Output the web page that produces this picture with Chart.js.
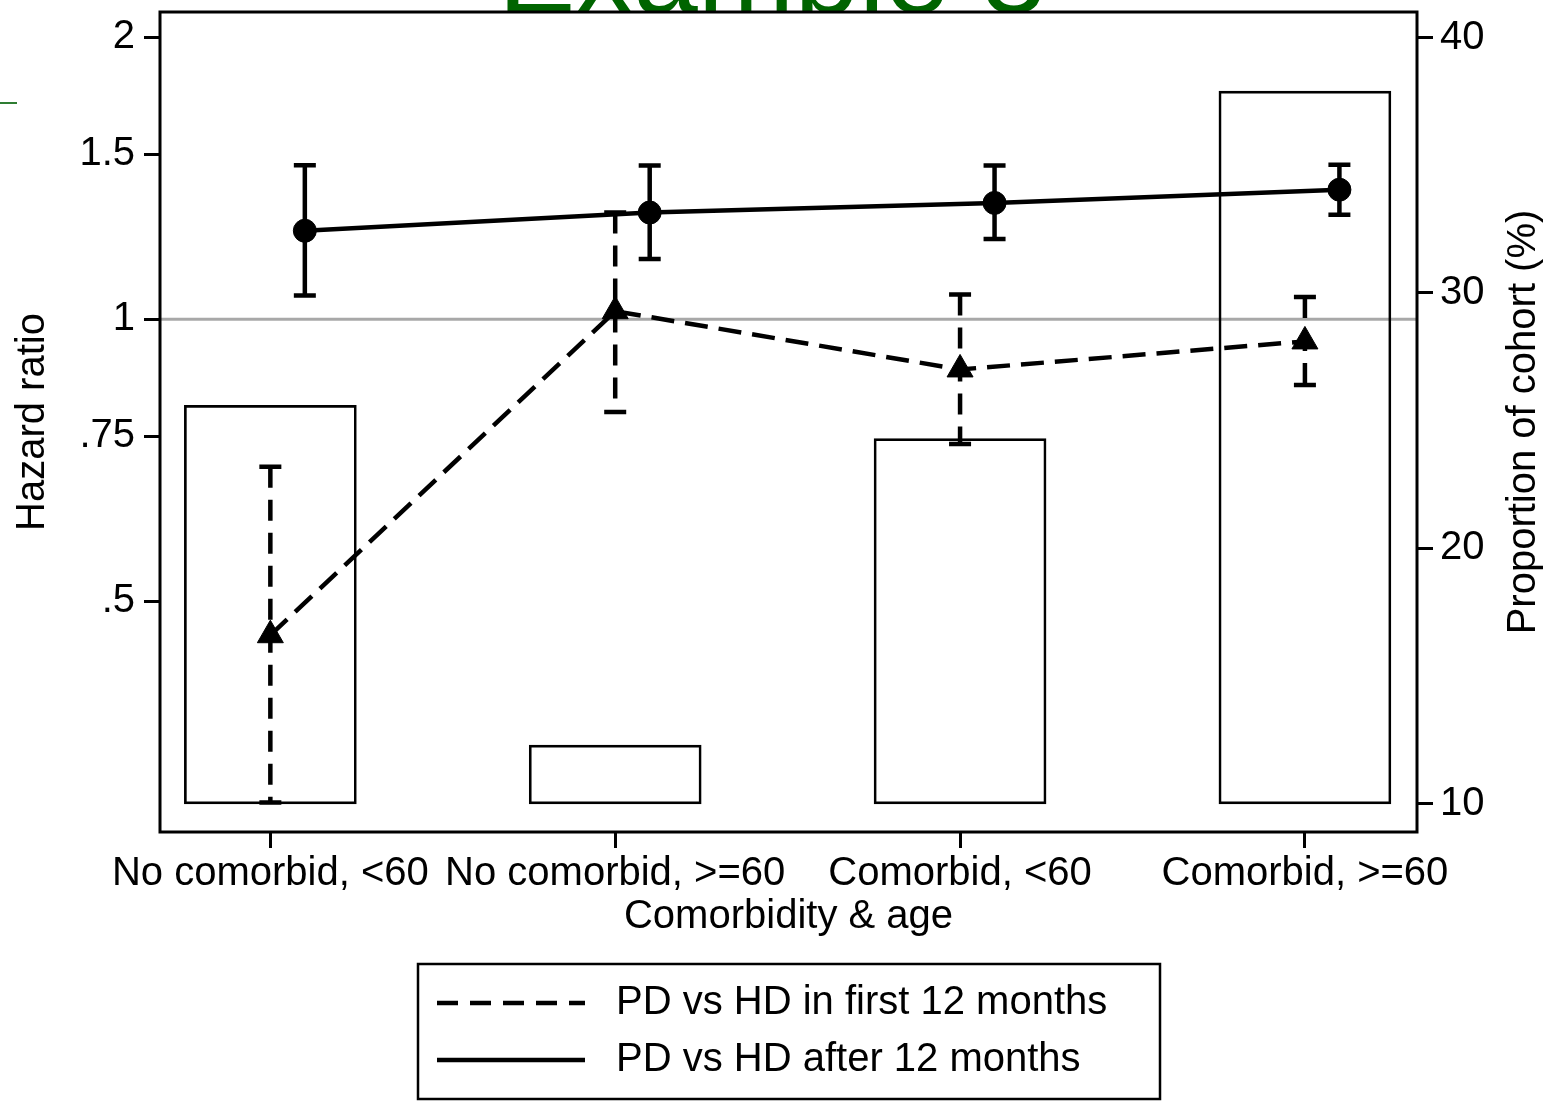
<!DOCTYPE html>
<html>
<head>
<meta charset="utf-8">
<script src="https://cdn.jsdelivr.net/npm/chart.js@4.4.0/dist/chart.umd.min.js"></script>
<style>
  html, body { margin: 0; padding: 0; background: #fff; }
  canvas { display: block; }
</style>
</head>
<body>
<canvas id="myChart" width="1556" height="1102"></canvas>
<script>
const categories = ["No comorbid, <60", "No comorbid, >=60", "Comorbid, <60", "Comorbid, >=60"];

// proportion of cohort (%) - right axis, bars
const cohortPct = [25.6, 12.3, 24.3, 37.9];

// PD vs HD in first 12 months (triangles, dashed)
const firstHR = [0.46, 1.02, 0.884, 0.947];
const firstLow = [0.305, 0.796, 0.736, 0.851];
const firstHigh = [0.696, 1.30, 1.063, 1.056];

// PD vs HD after 12 months (circles, solid)
const afterHR = [1.243, 1.30, 1.331, 1.375];
const afterLow = [1.06, 1.16, 1.218, 1.293];
const afterHigh = [1.46, 1.459, 1.459, 1.462];

const hrTicks = [0.5, 0.75, 1, 1.5, 2];
const hrTickLabels = [".5", ".75", "1", "1.5", "2"];
const pctTicks = [10, 20, 30, 40];
const refLine = 1;
const barBase = 10;

const FONT = "'Liberation Sans', Arial, Helvetica, sans-serif";
Chart.defaults.font.family = FONT;
Chart.defaults.color = "#000";

const xs = categories.map((c, i) => i + 1);
const shift = 0.1; // circles sit a little right of the category
const DASH = [23, 11];

function errBar(c, x, lo, hi, dash) {
  c.strokeStyle = "#000";
  c.lineWidth = 4.5;
  c.setLineDash(dash);
  c.beginPath();
  c.moveTo(x, hi);
  c.lineTo(x, lo);
  c.stroke();
  c.setLineDash([]);
  c.beginPath();
  c.moveTo(x - 11, hi); c.lineTo(x + 11, hi);
  c.moveTo(x - 11, lo); c.lineTo(x + 11, lo);
  c.stroke();
}

const decor = {
  id: "decor",
  beforeDraw(chart) {
    const c = chart.ctx, a = chart.chartArea;
    c.save();
    c.fillStyle = "#fff";
    c.fillRect(0, 0, chart.width, chart.height);
    c.fillStyle = "#006400";
    c.font = "116px " + FONT;
    c.textAlign = "center";
    c.textBaseline = "alphabetic";
    c.fillText("Example 3", 772, 13);
    c.strokeStyle = "#2e7d32";
    c.lineWidth = 2;
    c.beginPath(); c.moveTo(0, 103); c.lineTo(17, 103); c.stroke();
    c.fillStyle = "#fff";
    c.fillRect(a.left, a.top, a.right - a.left, a.bottom - a.top);
    c.restore();
  },
  beforeDatasetsDraw(chart) {
    const c = chart.ctx, a = chart.chartArea;
    const y = chart.scales.y.getPixelForValue(refLine);
    c.save();
    c.strokeStyle = "#a8a8a8";
    c.lineWidth = 3;
    c.beginPath(); c.moveTo(a.left, y); c.lineTo(a.right, y); c.stroke();
    c.restore();
  },
  afterDatasetsDraw(chart) {
    const c = chart.ctx, a = chart.chartArea;
    const sx = chart.scales.x, sy = chart.scales.y;
    c.save();
    xs.forEach((v, i) => {
      errBar(c, sx.getPixelForValue(v), sy.getPixelForValue(firstLow[i]), sy.getPixelForValue(firstHigh[i]), [21, 12]);
      errBar(c, sx.getPixelForValue(v + shift), sy.getPixelForValue(afterLow[i]), sy.getPixelForValue(afterHigh[i]), []);
    });
    c.strokeStyle = "#000";
    c.lineWidth = 3;
    c.strokeRect(a.left, a.top, a.right - a.left, a.bottom - a.top);
    c.restore();
  },
  afterDraw(chart) {
    const c = chart.ctx, a = chart.chartArea;
    c.save();
    c.fillStyle = "#000";
    c.font = "40px " + FONT;
    c.translate(1535, (a.top + a.bottom) / 2);
    c.rotate(-Math.PI / 2);
    c.textAlign = "center";
    c.textBaseline = "alphabetic";
    c.fillText("Proportion of cohort (%)", 0, 0);
    c.restore();

    // legend
    c.save();
    c.strokeStyle = "#000";
    c.lineWidth = 2.5;
    c.strokeRect(418, 964, 742, 135);
    c.lineWidth = 4.5;
    c.setLineDash([21, 12]);
    c.beginPath(); c.moveTo(437, 1003); c.lineTo(585, 1003); c.stroke();
    c.setLineDash([]);
    c.beginPath(); c.moveTo(437, 1060); c.lineTo(585, 1060); c.stroke();
    c.fillStyle = "#000";
    c.font = "40px " + FONT;
    c.textAlign = "left";
    c.textBaseline = "middle";
    c.fillText(chart.data.datasets[0].label, 616, 1003);
    c.fillText(chart.data.datasets[1].label, 616, 1060);
    c.restore();
  }
};

const axisGrid = {
  display: true,
  drawOnChartArea: false,
  drawTicks: true,
  tickLength: 16,
  color: "#000",
  lineWidth: 3,
  offset: false,
};

function fixY(width) {
  return (s) => {
    s.width = width;
    s.paddingTop = 0;
    s.paddingBottom = 0;
  };
}

const ctx = document.getElementById("myChart").getContext("2d");

new Chart(ctx, {
  data: {
    datasets: [
      {
        type: "line",
        label: "PD vs HD in first 12 months",
        data: firstHR.map((v, i) => ({ x: xs[i], y: v })),
        yAxisID: "y",
        borderColor: "#000",
        borderWidth: 4.5,
        borderDash: DASH,
        pointStyle: "triangle",
        pointRadius: 15,
        pointBackgroundColor: "#000",
        pointBorderColor: "#000",
        pointBorderWidth: 1,
        tension: 0,
        order: 1,
      },
      {
        type: "line",
        label: "PD vs HD after 12 months",
        data: afterHR.map((v, i) => ({ x: xs[i] + shift, y: v })),
        yAxisID: "y",
        borderColor: "#000",
        borderWidth: 4.5,
        pointStyle: "circle",
        pointRadius: 11.5,
        pointBackgroundColor: "#000",
        pointBorderColor: "#000",
        pointBorderWidth: 1,
        tension: 0,
        order: 2,
      },
      {
        type: "bar",
        label: "Proportion of cohort (%)",
        data: cohortPct.map((v, i) => ({ x: xs[i], y: [barBase, v] })),
        yAxisID: "y2",
        backgroundColor: "rgba(0,0,0,0)",
        borderColor: "#000",
        borderWidth: 2,
        borderSkipped: false,
        barThickness: 172,
        order: 3,
      },
    ],
  },
  options: {
    responsive: false,
    animation: false,
    devicePixelRatio: 1,
    layout: { autoPadding: false, padding: { top: 12, bottom: 160, left: 0, right: 0 } },
    plugins: {
      legend: { display: false },
      tooltip: { enabled: false },
    },
    scales: {
      x: {
        type: "linear",
        offset: false,
        bounds: "data",
        min: 0.68,
        max: 4.325,
        afterBuildTicks: (s) => { s.ticks = xs.map((v) => ({ value: v })); },
        afterFit: (s) => {
          s.height = 110;
          s.paddingLeft = 0;
          s.paddingRight = 0;
        },
        ticks: {
          callback: (v, i) => categories[i],
          font: { size: 40 },
          padding: 2,
          maxRotation: 0,
          autoSkip: false,
          color: "#000",
        },
        grid: axisGrid,
        border: { display: false },
        title: {
          display: true,
          text: "Comorbidity & age",
          font: { size: 40 },
          padding: { top: 0, bottom: 1 },
          color: "#000",
        },
      },
      y: {
        type: "logarithmic",
        position: "left",
        bounds: "data",
        min: 0.2836,
        max: 2.128,
        afterBuildTicks: (s) => { s.ticks = hrTicks.map((v) => ({ value: v })); },
        afterFit: fixY(160),
        ticks: {
          callback: (v, i) => hrTickLabels[i],
          font: { size: 40 },
          padding: 9,
          color: "#000",
        },
        grid: axisGrid,
        border: { display: false },
        title: {
          display: true,
          text: "Hazard ratio",
          font: { size: 40 },
          padding: { top: 9, bottom: 0 },
          color: "#000",
        },
      },
      y2: {
        type: "linear",
        position: "right",
        bounds: "data",
        min: 8.9,
        max: 41.0,
        afterBuildTicks: (s) => { s.ticks = pctTicks.map((v) => ({ value: v })); },
        afterFit: fixY(139),
        ticks: {
          callback: (v) => String(v),
          font: { size: 40 },
          padding: 7,
          color: "#000",
        },
        grid: axisGrid,
        border: { display: false },
      },
    },
  },
  plugins: [decor],
});
</script>
</body>
</html>
